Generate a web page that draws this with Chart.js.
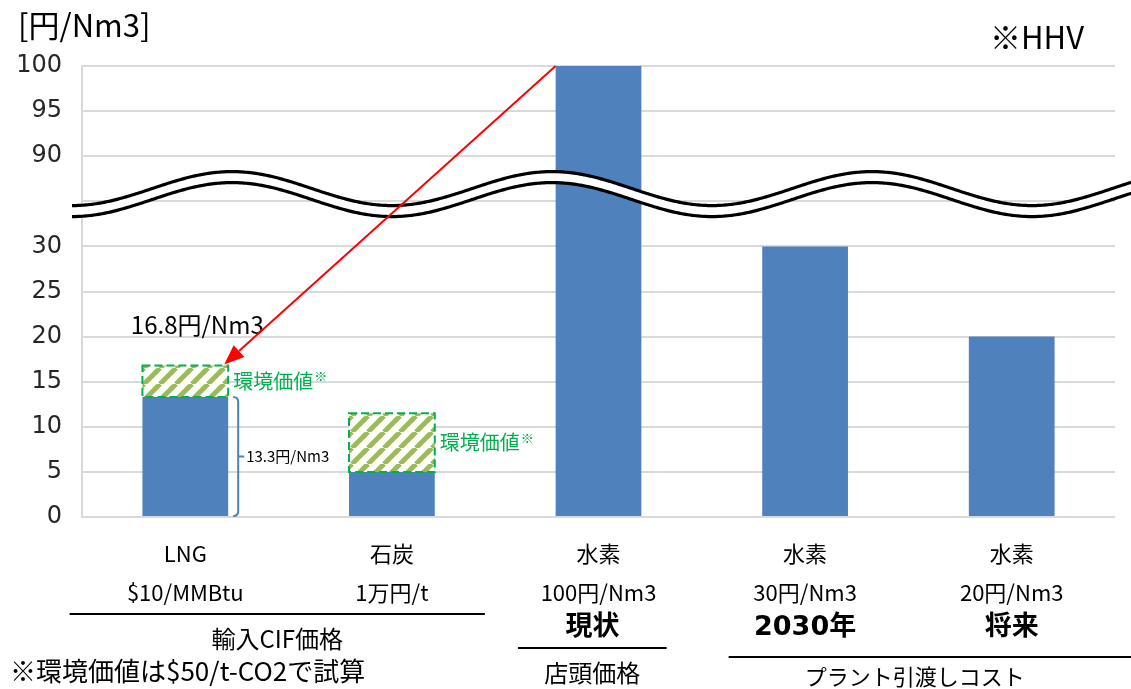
<!DOCTYPE html>
<html lang="ja">
<head>
<meta charset="utf-8">
<script src="https://cdn.jsdelivr.net/npm/chart.js@4.4.1/dist/chart.umd.min.js"></script>
<style>
  html, body { margin: 0; padding: 0; background: #fff; }
  #wrap { width: 1131px; height: 689px; }
</style>
</head>
<body>
<div id="wrap"><canvas id="chart" width="1131" height="689"></canvas></div>
<script>
// --- データ ---
const categories = [['LNG', '$10/MMBtu'], ['石炭', '1万円/t'], ['水素', '100円/Nm3'], ['水素', '30円/Nm3'], ['水素', '20円/Nm3']];
const stageLabels = ['', '', '現状', '2030年', '将来'];
const basePrice = [13.3, 5, 100, 30, 20];     // 円/Nm3
const envValue = [3.5, 6.5, 0, 0, 0];         // 環境価値分
const yTickLabels = ['0', '5', '10', '15', '20', '25', '30', '', '90', '95', '100'];
const groupNames = ['輸入CIF価格', '店頭価格', 'プラント引渡しコスト'];
const groupRanges = [[0, 1], [2, 2], [3, 4]];

// 軸の省略 (30 の上は 90 から)
const BREAK_LOW = 30;
const BREAK_SHIFT = 50;      // 90 -> 40
const BREAK_MID = 35.8;      // 波線の中心（軸上の値）
function toAxis(v) { return v > BREAK_LOW ? v - BREAK_SHIFT : v; }

const FONT = "'Noto Sans CJK JP', sans-serif";
const NUM_FONT = "'DejaVu Sans', 'Noto Sans CJK JP', sans-serif";
const BLUE = '#4F81BD';
const GREEN = '#00B050';

// 斜線パターン
function makeHatch() {
  const s = 16;
  const c = document.createElement('canvas');
  c.width = s; c.height = s;
  const g = c.getContext('2d');
  g.fillStyle = '#fff';
  g.fillRect(0, 0, s, s);
  g.strokeStyle = '#9BBB59';
  g.lineWidth = 5;
  g.beginPath();
  for (let k = -1; k <= 1; k++) {
    g.moveTo(k * s, s);
    g.lineTo(k * s + s, 0);
  }
  g.stroke();
  return g.createPattern(c, 'repeat');
}

const decor = {
  id: 'decor',
  afterDatasetsDraw(chart) {
    const ctx = chart.ctx;
    const base = chart.getDatasetMeta(0).data;
    const env = chart.getDatasetMeta(1).data;

    // 環境価値の破線枠とラベル
    env.forEach((bar, i) => {
      if (!envValue[i]) return;
      const l = bar.x - bar.width / 2, r = bar.x + bar.width / 2;
      ctx.save();
      ctx.strokeStyle = GREEN;
      ctx.lineWidth = 2;
      ctx.setLineDash([8, 4]);
      ctx.strokeRect(l, bar.y, r - l, bar.base - bar.y);
      ctx.restore();

      ctx.save();
      ctx.fillStyle = GREEN;
      ctx.textBaseline = 'middle';
      ctx.textAlign = 'left';
      ctx.font = '20px ' + FONT;
      const ty = (bar.y + bar.base) / 2;
      ctx.fillText('環境価値', r + 5, ty);
      const w = ctx.measureText('環境価値').width;
      ctx.font = '13px ' + FONT;
      ctx.fillText('※', r + 6 + w, ty - 5);
      ctx.restore();
    });

    // LNG 合計ラベル
    const e0 = env[0];
    ctx.save();
    ctx.fillStyle = '#000';
    ctx.font = '24px ' + FONT;
    ctx.textAlign = 'center';
    ctx.textBaseline = 'middle';
    ctx.fillText((basePrice[0] + envValue[0]).toFixed(1) + '円/Nm3', e0.x + 12, e0.y - 41);
    ctx.restore();

    // 13.3 の括弧
    const b0 = base[0];
    const bx = b0.x + b0.width / 2 + 10;
    const mid = (b0.y + b0.base) / 2;
    ctx.save();
    ctx.strokeStyle = BLUE;
    ctx.lineWidth = 2;
    ctx.beginPath();
    ctx.moveTo(bx - 5, b0.y);
    ctx.quadraticCurveTo(bx, b0.y, bx, b0.y + 5);
    ctx.lineTo(bx, b0.base - 5);
    ctx.quadraticCurveTo(bx, b0.base, bx - 5, b0.base);
    ctx.moveTo(bx, mid);
    ctx.lineTo(bx + 6, mid);
    ctx.stroke();
    ctx.fillStyle = '#000';
    ctx.font = '15px ' + FONT;
    ctx.textBaseline = 'middle';
    ctx.fillText(basePrice[0] + '円/Nm3', bx + 8, mid);
    ctx.restore();
  },
  afterDraw(chart) {
    const ctx = chart.ctx;
    const area = chart.chartArea;
    const xs = chart.scales.x, ys = chart.scales.y;

    // 波線（軸の省略記号）
    const yMid = ys.getPixelForValue(BREAK_MID);
    const amp = 17, gap = 11, period = 320, x0 = area.left + 150;
    const upper = [], lower = [];
    for (let x = area.left - 10; x <= chart.width + 2; x += 2) {
      const y = yMid - gap / 2 - amp * Math.cos(2 * Math.PI * (x - x0) / period);
      upper.push([x, y]);
      lower.push([x, y + gap]);
    }
    ctx.save();
    ctx.fillStyle = '#fff';
    ctx.beginPath();
    upper.forEach((p, i) => i ? ctx.lineTo(p[0], p[1]) : ctx.moveTo(p[0], p[1]));
    for (let i = lower.length - 1; i >= 0; i--) ctx.lineTo(lower[i][0], lower[i][1]);
    ctx.closePath();
    ctx.fill();
    ctx.strokeStyle = '#000';
    ctx.lineWidth = 3.2;
    [upper, lower].forEach(line => {
      ctx.beginPath();
      line.forEach((p, i) => i ? ctx.lineTo(p[0], p[1]) : ctx.moveTo(p[0], p[1]));
      ctx.stroke();
    });
    ctx.restore();

    // 赤矢印（水素 現状 → LNG 合計）
    const h = chart.getDatasetMeta(0).data[2];
    const e0 = chart.getDatasetMeta(1).data[0];
    const sx = h.x - h.width / 2, sy = h.y;
    const ex = e0.x + e0.width / 2 - 4, ey = e0.y - 1;
    const ang = Math.atan2(ey - sy, ex - sx);
    const hl = 20, hw = 8;
    ctx.save();
    ctx.strokeStyle = '#FF0000';
    ctx.fillStyle = '#FF0000';
    ctx.lineWidth = 2;
    ctx.beginPath();
    ctx.moveTo(sx, sy);
    ctx.lineTo(ex - hl * Math.cos(ang), ey - hl * Math.sin(ang));
    ctx.stroke();
    ctx.beginPath();
    ctx.moveTo(ex, ey);
    ctx.lineTo(ex - hl * Math.cos(ang) + hw * Math.sin(ang), ey - hl * Math.sin(ang) - hw * Math.cos(ang));
    ctx.lineTo(ex - hl * Math.cos(ang) - hw * Math.sin(ang), ey - hl * Math.sin(ang) + hw * Math.cos(ang));
    ctx.closePath();
    ctx.fill();
    ctx.restore();

    // 下の太字ラベル
    ctx.save();
    ctx.fillStyle = '#000';
    ctx.textAlign = 'center';
    ctx.textBaseline = 'middle';
    ctx.font = 'bold 27px ' + NUM_FONT;
    stageLabels.forEach((t, i) => {
      if (t) ctx.fillText(t, xs.getPixelForValue(i) - (i === 2 ? 6 : 0), area.bottom + 111);
    });

    // グループの線とラベル
    const cw = xs.getPixelForValue(1) - xs.getPixelForValue(0);
    const lines = [
      { l: -0.56, r: 0.45, y: 97, ty: 122, size: 24 },
      { l: -0.39, r: 0.33, y: 131, ty: 156, size: 24 },
      { l: -0.37, r: 0.62, y: 140, ty: 160, size: 22 }
    ];
    ctx.lineWidth = 2;
    ctx.strokeStyle = '#000';
    groupRanges.forEach((g, i) => {
      const a = xs.getPixelForValue(g[0]) + lines[i].l * cw;
      const b = Math.min(xs.getPixelForValue(g[1]) + lines[i].r * cw, chart.width);
      ctx.beginPath();
      ctx.moveTo(a, area.bottom + lines[i].y);
      ctx.lineTo(b, area.bottom + lines[i].y);
      ctx.stroke();
      const cx = i === 2 ? (a + b) / 2 - 15 : (a + b) / 2;
      ctx.font = lines[i].size + 'px ' + FONT;
      ctx.fillText(groupNames[i], cx, area.bottom + lines[i].ty);
    });

    // 注記・単位
    ctx.textAlign = 'left';
    ctx.font = '26px ' + FONT;
    ctx.fillText('※環境価値は$50/t-CO2で試算', 10, 671);
    ctx.font = '31px ' + FONT;
    ctx.fillText('[円/Nm3]', 18, 25);
    ctx.fillText('※HHV', 990, 37);
    ctx.restore();
  }
};

const ctx = document.getElementById('chart').getContext('2d');
const hatch = makeHatch();

new Chart(ctx, {
  type: 'bar',
  data: {
    labels: categories,
    datasets: [
      {
        label: '価格',
        data: basePrice.map(toAxis),
        backgroundColor: BLUE,
        barPercentage: 0.415,
        categoryPercentage: 1
      },
      {
        label: '環境価値',
        data: envValue.map(v => v || null),
        backgroundColor: hatch,
        barPercentage: 0.415,
        categoryPercentage: 1
      }
    ]
  },
  options: {
    responsive: false,
    animation: false,
    layout: { padding: { top: 66, right: 16, left: 0, bottom: 0 } },
    plugins: { legend: { display: false }, tooltip: { enabled: false } },
    scales: {
      x: {
        stacked: true,
        grid: { display: false },
        border: { display: false },
        ticks: {
          font: { family: FONT, size: 22, lineHeight: 1.77 },
          color: '#000',
          padding: 9,
          maxRotation: 0,
          autoSkip: false
        },
        afterFit: s => { s.height = 172; }
      },
      y: {
        stacked: true,
        min: 0,
        max: 50,
        ticks: {
          stepSize: 5,
          callback: (v, i) => yTickLabels[i],
          font: { family: NUM_FONT, size: 24 },
          color: '#262626',
          padding: 20
        },
        grid: { color: '#d9d9d9', lineWidth: 2, drawTicks: false },
        border: { color: '#d9d9d9', width: 2 },
        afterFit: s => { s.width = 82; }
      }
    }
  },
  plugins: [decor]
});
</script>
</body>
</html>
